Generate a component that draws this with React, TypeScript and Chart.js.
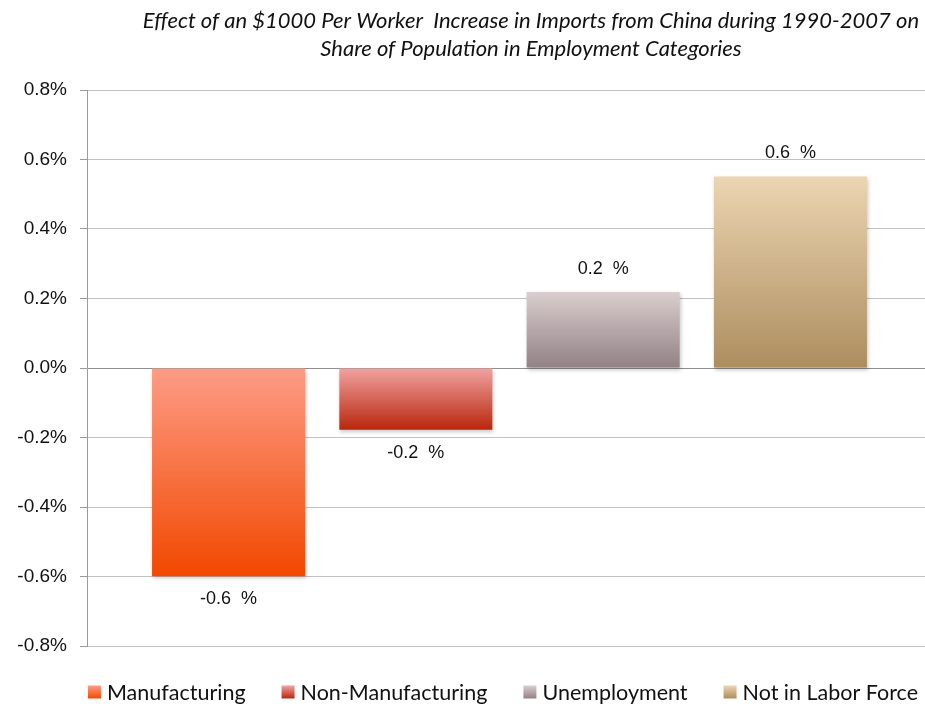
import React, { useEffect, useRef } from "react";
import { Chart, registerables } from "chart.js";

Chart.register(...registerables);

const titleLines = [
  "Effect of an $1000 Per Worker  Increase in Imports from China during 1990-2007 on",
  "Share of Population in Employment Categories",
];
const categories = ["Effect"];
const seriesNames = ["Manufacturing", "Non-Manufacturing", "Unemployment", "Not in Labor Force"];
const seriesValues = [-0.599, -0.178, 0.219, 0.551];
const gradientTop = ["#FD9C86", "#F1A3A1", "#DACECE", "#ECD5B2"];
const gradientBottom = ["#F24800", "#B9260C", "#928185", "#AC8D5E"];
const legendColors = ["#F8704A", "#D5574C", "#B4A6A8", "#CDB288"];
const yMin = -0.8;
const yMax = 0.8;
const yStep = 0.2;

const TITLE_FONT = "italic 22px Lato";
const LEGEND_FONT = "21.5px Lato";
const LABEL_FONT = "18px 'Liberation Sans'";

const shadowPlugin = {
  id: "barShadow",
  beforeDatasetsDraw(chart: any) {
    const ctx = chart.ctx;
    ctx.save();
    ctx.shadowColor = "rgba(0,0,0,0.22)";
    ctx.shadowBlur = 4;
    ctx.shadowOffsetX = 1;
    ctx.shadowOffsetY = 2;
  },
  afterDatasetsDraw(chart: any) {
    chart.ctx.restore();
  },
};

const valueLabelPlugin = {
  id: "valueLabels",
  afterDatasetsDraw(chart: any) {
    const ctx = chart.ctx;
    ctx.save();
    ctx.font = LABEL_FONT;
    ctx.fillStyle = "#111";
    ctx.textAlign = "center";
    ctx.textBaseline = "middle";
    chart.data.datasets.forEach((ds: any, i: number) => {
      const meta = chart.getDatasetMeta(i);
      const el = meta.data[0];
      if (!el) return;
      const v = ds.data[0];
      const y = v < 0 ? el.y + 23 : el.y - 23;
      ctx.fillText(v.toFixed(1) + "  %", el.x, y);
    });
    ctx.restore();
  },
};

const titlePlugin = {
  id: "customTitle",
  afterDraw(chart: any) {
    const ctx = chart.ctx;
    const area = chart.chartArea;
    const cx = area.left + (area.right - area.left) * 0.5254;
    ctx.save();
    ctx.font = TITLE_FONT;
    ctx.fillStyle = "#111";
    ctx.textAlign = "center";
    ctx.textBaseline = "alphabetic";
    ctx.fillText(titleLines[0], cx, area.top - 62);
    ctx.fillText(titleLines[1], cx, area.top - 34);
    ctx.restore();
  },
};

const legendPlugin = {
  id: "customLegend",
  afterDraw(chart: any) {
    const ctx = chart.ctx;
    const area = chart.chartArea;
    const box = 13;
    const boxGap = 6;
    const itemGap = 36;
    ctx.save();
    ctx.font = LEGEND_FONT;
    const widths = seriesNames.map((n) => ctx.measureText(n).width);
    const total =
      widths.reduce((a, b) => a + b, 0) + seriesNames.length * (box + boxGap) + (seriesNames.length - 1) * itemGap;
    let x = (area.left + area.right) / 2 - 6.5 - total / 2;
    const cy = area.bottom + 46;
    seriesNames.forEach((name, i) => {
      const g = ctx.createLinearGradient(0, cy - box / 2, 0, cy + box / 2);
      g.addColorStop(0, gradientTop[i]);
      g.addColorStop(1, gradientBottom[i]);
      ctx.fillStyle = g;
      ctx.fillRect(x, cy - box / 2, box, box);
      x += box + boxGap;
      ctx.fillStyle = "#111";
      ctx.textAlign = "left";
      ctx.textBaseline = "middle";
      ctx.fillText(name, x, cy + 1);
      x += widths[i] + itemGap;
    });
    ctx.restore();
  },
};

function barGradient(i: number) {
  return (c: any) => {
    const chart = c.chart;
    if (c.type !== "data" || !chart.chartArea) return legendColors[i];
    const y = chart.scales.y;
    const v = c.raw as number;
    const p1 = y.getPixelForValue(Math.max(v, 0));
    const p2 = y.getPixelForValue(Math.min(v, 0));
    const g = chart.ctx.createLinearGradient(0, p1, 0, p2);
    g.addColorStop(0, gradientTop[i]);
    g.addColorStop(1, gradientBottom[i]);
    return g;
  };
}

export default function App() {
  const ref = useRef<HTMLCanvasElement>(null);
  useEffect(() => {
    if (!ref.current) return;
    const chart = new Chart(ref.current, {
      type: "bar",
      data: {
        labels: categories,
        datasets: seriesNames.map((name, i) => ({
          label: name,
          data: [seriesValues[i]],
          backgroundColor: barGradient(i),
          borderWidth: 0,
          categoryPercentage: 0.8866,
          barPercentage: 0.817,
        })),
      },
      options: {
        responsive: false,
        animation: false,
        layout: { padding: { top: 90, bottom: 58, left: 0, right: 0 } },
        plugins: {
          legend: { display: false },
          title: { display: false },
          tooltip: { enabled: false },
        },
        scales: {
          x: { display: false },
          y: {
            min: yMin,
            max: yMax,
            afterFit: (s: any) => {
              s.width = 87;
            },
            ticks: {
              stepSize: yStep,
              padding: 13,
              color: "#111",
              font: { family: "'Liberation Sans'", size: 19 },
              callback: (v: any) => {
                const n = Math.abs(v) < 1e-9 ? 0 : Number(v);
                return n.toFixed(1) + "%";
              },
            },
            grid: {
              color: (c: any) => (c.tick && Math.abs(c.tick.value) < 1e-9 ? "#8f8f8f" : "#c2c2c2"),
              tickLength: 7,
              tickColor: "#9a9a9a",
            },
            border: { display: true, color: "#9a9a9a" },
          },
        },
      },
      plugins: [shadowPlugin, valueLabelPlugin, titlePlugin, legendPlugin],
    });
    return () => chart.destroy();
  }, []);
  return (
    <div style={{ position: "absolute", left: 0, top: 0, width: 925, height: 704, overflow: "hidden", background: "#fff" }}>
      <canvas ref={ref} width={932} height={704} style={{ display: "block" }} />
    </div>
  );
}
